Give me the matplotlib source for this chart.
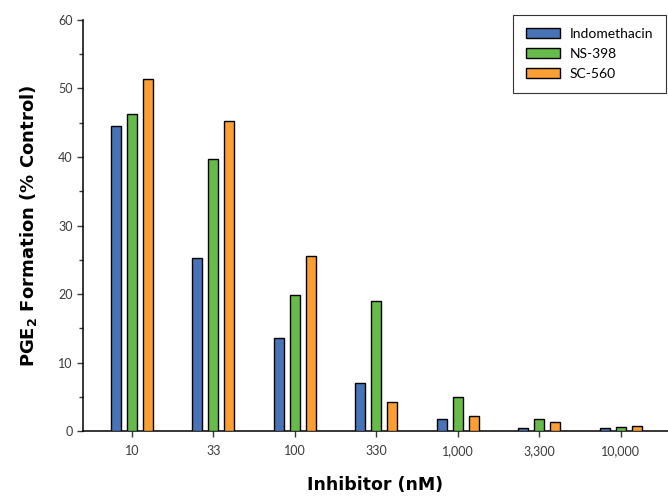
import matplotlib
matplotlib.use("Agg")
import matplotlib.pyplot as plt
import numpy as np
from matplotlib.ticker import MultipleLocator

categories = ["10", "33", "100", "330", "1,000", "3,300", "10,000"]
indomethacin = [44.5, 25.3, 13.6, 7.0, 1.7, 0.45, 0.45]
ns398 = [46.3, 39.7, 19.8, 19.0, 5.0, 1.75, 0.6]
sc560 = [51.4, 45.3, 25.6, 4.2, 2.2, 1.3, 0.7]
series_names = ["Indomethacin", "NS-398", "SC-560"]
colors = ["#4873b6", "#67bb4b", "#fb9e34"]

plt.rcParams['font.family'] = ['Lato', 'DejaVu Sans']

fig = plt.figure(figsize=(6.68, 4.96), dpi=100)
ax = fig.add_axes([0.1243, 0.131, 0.8757, 0.8287])

x = np.arange(len(categories))
offset = 0.196
width = 0.123
for i, (vals, name, c) in enumerate(zip([indomethacin, ns398, sc560], series_names, colors)):
    ax.bar(x + (i - 1) * offset, vals, width, color=c, edgecolor="black",
           linewidth=1.0, label=name, zorder=3)

ax.set_xlim(-0.6, 6.58)
ax.set_ylim(0, 60)
ax.yaxis.set_major_locator(MultipleLocator(10))
ax.yaxis.set_minor_locator(MultipleLocator(5))
ax.set_xticks(x)
ax.set_xticklabels(categories)
ax.tick_params(axis='both', which='major', labelsize=9, colors="#3a3a3a",
               length=4, width=1, direction='out')
ax.tick_params(axis='y', which='minor', length=3, width=1, color="#3a3a3a")
ax.tick_params(axis='x', pad=6)
for s in ["top", "right"]:
    ax.spines[s].set_visible(False)
for s in ["left", "bottom"]:
    ax.spines[s].set_linewidth(1.1)

ax.set_ylabel("PGE$_\\mathbf{2}$ Formation (% Control)", fontsize=13, fontweight="bold",
              labelpad=14, family=['DejaVu Sans'])
ax.set_xlabel("Inhibitor (nM)", fontsize=12.5, fontweight="bold", labelpad=14,
              family=['DejaVu Sans'])

leg = ax.legend(loc="upper right", bbox_to_anchor=(0.9966, 1.012), fontsize=10, frameon=True,
                fancybox=False, edgecolor="black", handlelength=2.5, handleheight=0.75,
                borderpad=0.9, labelspacing=0.6, handletextpad=0.7, borderaxespad=0)
leg.get_frame().set_linewidth(0.8)

fig.savefig("out.png", dpi=100)
